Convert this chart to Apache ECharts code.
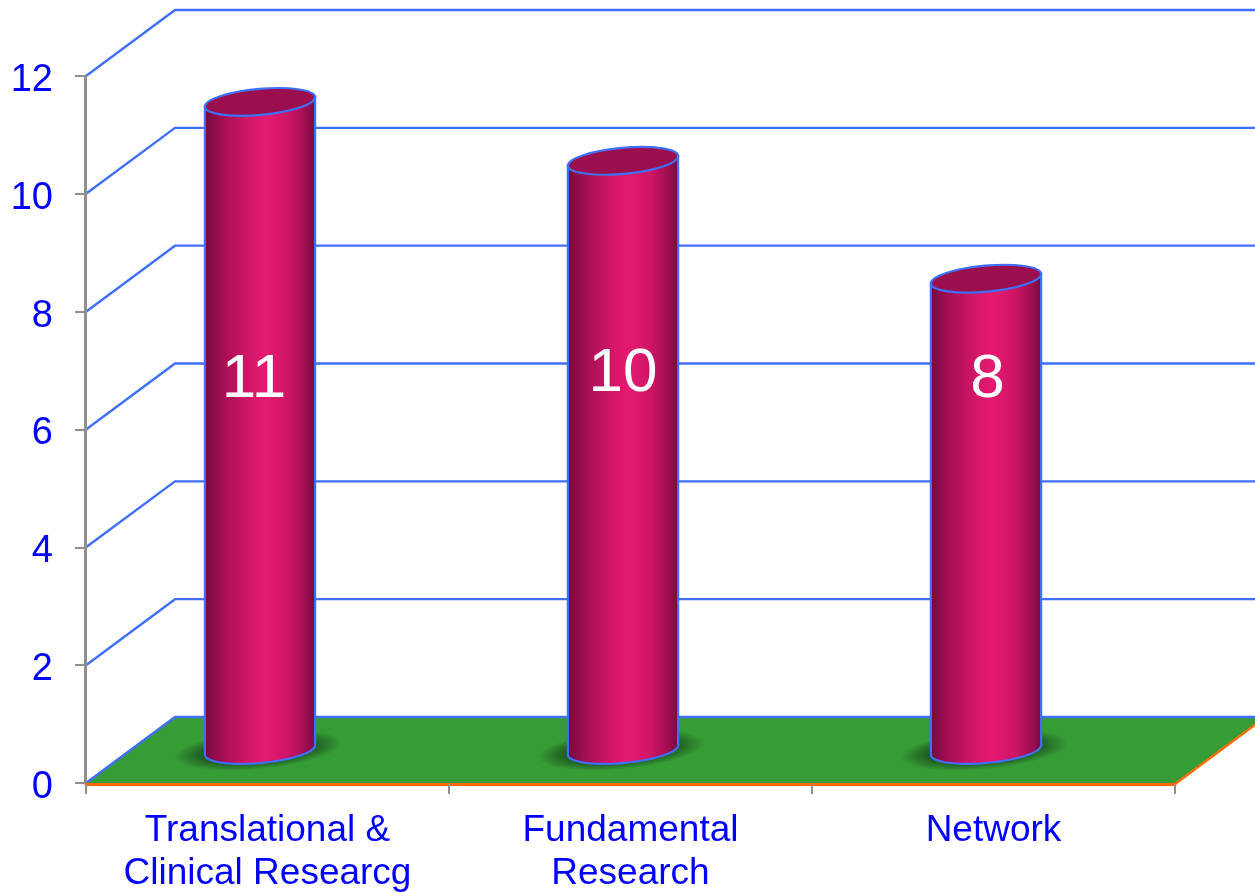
<!DOCTYPE html>
<html><head><meta charset="utf-8">
<style>html,body{margin:0;padding:0;background:#fff}#c{width:1255px;height:892px}</style>
<script src="https://cdn.jsdelivr.net/npm/echarts@6/dist/echarts.min.js"></script>
</head><body><div id="c"></div>
<script>
const categories = ['Translational &\nClinical Researcg', 'Fundamental\nResearch', 'Network'];
const values = [11, 10, 8];
const valueLabels = ['11', '10', '8'];
const labelHeights = [6.85, 6.95, 6.85];
const labelShift = [-6, 0, 1.5];
const wallTicks = [2, 4, 6, 8, 10, 12];

const FONT = '"Liberation Sans", Arial, sans-serif';
const BLUE = '#3f6ffb', TEXT = '#0000ff', GREY = '#8f8f8f', ORANGE = '#ff6a00', GREEN = '#369c35';
const DX = 89, DY = 66;            // wall depth
const BAR_DX = -7.5, BAR_DY = -33; // bar placement inside the floor depth
const TILT = -5.2 * Math.PI / 180, RY = 13;

function ellPt(cx, cy, rx, t) {
  const c = Math.cos(t), s = Math.sin(t);
  return [cx + rx * c * Math.cos(TILT) - RY * s * Math.sin(TILT),
          cy + rx * c * Math.sin(TILT) + RY * s * Math.cos(TILT)];
}

const renderWall = (p, api) => {
  const a = api.coord([0, api.value(1)]);
  const x0 = p.coordSys.x;
  return { type: 'polyline', silent: true,
    shape: { points: [[x0, a[1]], [x0 + DX, a[1] - DY], [1300, a[1] - DY]] },
    style: { stroke: BLUE, lineWidth: 2.4, fill: null } };
};

const renderFloor = (p, api) => {
  const y = api.coord([0, 0])[1];
  const x0 = p.coordSys.x, x1 = x0 + p.coordSys.width;
  return { type: 'group', children: [
    { type: 'polygon', silent: true,
      shape: { points: [[x0, y], [x0 + DX, y - DY], [x1 + DX, y - DY], [x1, y]] },
      style: { fill: GREEN } },
    { type: 'polyline', silent: true,
      shape: { points: [[x0, y], [x0 + DX, y - DY], [1300, y - DY]] },
      style: { stroke: BLUE, lineWidth: 2.4, fill: null } },
    { type: 'line', silent: true,
      shape: { x1: x1, y1: y + 1, x2: x1 + DX, y2: y - DY + 1 },
      style: { stroke: ORANGE, lineWidth: 2.4 } }
  ]};
};

const renderBar = (p, api) => {
  const i = api.value(0);
  const top = api.coord([i, api.value(1)]);
  const base = api.coord([i, 0]);
  const rx = api.size([1, 0])[0] * 0.1525;
  const cx = top[0] + BAR_DX;
  const cyT = top[1] + BAR_DY, cyB = base[1] + BAR_DY;
  const pts = [ellPt(cx, cyT, rx, Math.PI), ellPt(cx, cyT, rx, 0)];
  for (let k = 0; k <= 40; k++) pts.push(ellPt(cx, cyB, rx, Math.PI * k / 40));
  const mid = api.coord([i, labelHeights[i]]);
  return { type: 'group', children: [
    { type: 'circle', silent: true, x: cx - 2, y: cyB, scaleY: 0.23, rotation: -TILT,
      shape: { cx: 0, cy: 0, r: 84 },
      style: { fill: { type: 'radial', x: 0.5, y: 0.5, r: 0.5, colorStops: [
        { offset: 0, color: 'rgba(10,30,15,0.72)' }, { offset: 0.6, color: 'rgba(10,30,15,0.6)' },
        { offset: 0.8, color: 'rgba(10,30,15,0.3)' }, { offset: 1, color: 'rgba(10,30,15,0)' }] } } },
    { type: 'polygon', silent: true, shape: { points: pts },
      style: { stroke: BLUE, lineWidth: 2.2, fill: { type: 'linear', x: 0, y: 0, x2: 1, y2: 0, colorStops: [
        { offset: 0, color: '#6f0a3f' }, { offset: 0.18, color: '#a80f55' }, { offset: 0.42, color: '#d6176a' },
        { offset: 0.55, color: '#e41a70' }, { offset: 0.75, color: '#cf1566' }, { offset: 0.9, color: '#a00f52' },
        { offset: 1, color: '#6f0a3f' }] } } },
    { type: 'ellipse', silent: true, x: cx, y: cyT, rotation: -TILT,
      shape: { cx: 0, cy: 0, rx: rx, ry: RY },
      style: { fill: '#9c0f4e', stroke: BLUE, lineWidth: 2.2 } },
    { type: 'text', silent: true, x: cx + labelShift[i], y: mid[1],
      style: { text: valueLabels[i], fill: '#fff', font: '62px ' + FONT, textAlign: 'center', textVerticalAlign: 'middle' } }
  ]};
};

const chart = echarts.init(document.getElementById('c'), null, { renderer: 'canvas' });
chart.setOption({
  animation: false,
  backgroundColor: '#fff',
  grid: { left: 86, top: 76, width: 1089, height: 707, containLabel: false, outerBoundsMode: 'none' },
  xAxis: { type: 'category', data: categories, z: 5, offset: 1,
    axisLine: { show: true, onZero: false, lineStyle: { color: ORANGE, width: 3 } },
    axisTick: { show: true, alignWithLabel: false, length: 10, lineStyle: { color: GREY, width: 2 } },
    axisLabel: { color: TEXT, fontFamily: FONT, fontSize: 37, lineHeight: 43, margin: 25, interval: 0 },
    splitLine: { show: false } },
  yAxis: { type: 'value', min: 0, max: 12, interval: 2, z: 4, offset: 1,
    axisLine: { show: true, lineStyle: { color: GREY, width: 3 } },
    axisTick: { show: true, length: 10, lineStyle: { color: GREY, width: 2 } },
    axisLabel: { color: TEXT, fontFamily: FONT, fontSize: 38, margin: 32, verticalAlign: 'top', lineHeight: 9 },
    splitLine: { show: false } },
  series: [
    { type: 'custom', name: 'wall', z: 1, clip: false, renderItem: renderWall,
      encode: { x: 0, y: 1 }, data: wallTicks.map(v => [0, v]) },
    { type: 'custom', name: 'floor', z: 2, clip: false, renderItem: renderFloor,
      encode: { x: 0, y: 1 }, data: [[0, 0]] },
    { type: 'custom', name: 'bars', z: 3, clip: false, renderItem: renderBar,
      encode: { x: 0, y: 1 }, data: values.map((v, i) => [i, v]) }
  ]
});
</script></body></html>
